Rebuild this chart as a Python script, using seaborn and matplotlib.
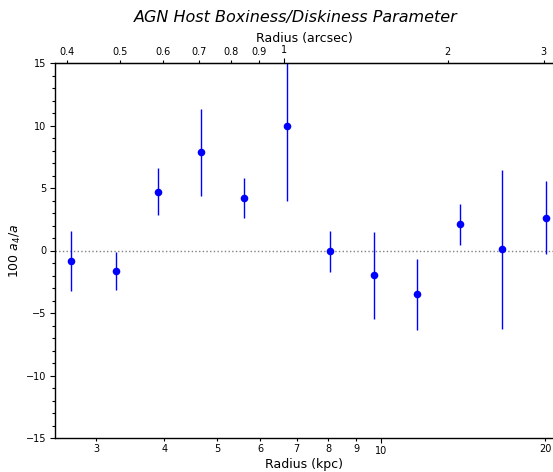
import numpy as np
import pandas as pd
import matplotlib
matplotlib.use("Agg")
import matplotlib.pyplot as plt
from matplotlib.ticker import FuncFormatter, MultipleLocator, FixedLocator
import seaborn as sns

# Data
radius_kpc = [2.70, 3.26, 3.89, 4.68, 5.61, 6.73, 8.07, 9.70, 11.63, 13.96, 16.71, 20.08]
a4_param = [-0.84, -1.64, 4.71, 7.85, 4.20, 10.0, -0.07, -1.99, -3.51, 2.09, 0.09, 2.63]
a4_err = [2.43, 1.52, 1.89, 3.47, 1.60, 6.0, 1.65, 3.47, 2.84, 1.67, 6.38, 2.90]
kpc_per_arcsec = 6.63

bottom_major = [10]
bottom_minor = [3, 4, 5, 6, 7, 8, 9, 20]
top_major = [1]
top_minor = [0.4, 0.5, 0.6, 0.7, 0.8, 0.9, 2, 3]

df = pd.DataFrame({"r": radius_kpc, "a4": a4_param, "err": a4_err})

sns.set_style("ticks")
plt.rcParams["font.family"] = ["DejaVu Sans"]
for k in ["text.color", "axes.labelcolor", "xtick.color", "ytick.color", "axes.edgecolor"]:
    plt.rcParams[k] = "black"

fig = plt.figure(figsize=(5.53, 4.72), dpi=100)
ax = fig.add_axes([55 / 553, 34 / 472, (553 - 55) / 553, (438 - 63) / 472])

ax.errorbar(df["r"], df["a4"], yerr=df["err"], fmt="none", ecolor="blue",
            elinewidth=1.0, capsize=0, zorder=2)
sns.scatterplot(data=df, x="r", y="a4", ax=ax, color="blue", s=30,
                edgecolor="blue", linewidth=0, zorder=3)
ax.axhline(0, color="gray", linestyle=":", linewidth=1, zorder=1)

ax.set_xscale("log")
ax.set_xlim(2.52, 20.69)
ax.set_ylim(-15, 15)

fmt = FuncFormatter(lambda v, p: f"{v:g}")
ax.xaxis.set_major_locator(FixedLocator(bottom_major))
ax.xaxis.set_minor_locator(FixedLocator(bottom_minor))
ax.xaxis.set_major_formatter(fmt)
ax.xaxis.set_minor_formatter(fmt)
ax.yaxis.set_major_locator(MultipleLocator(5))
ax.yaxis.set_minor_locator(MultipleLocator(1))

ax.tick_params(axis="both", which="both", labelsize=7, direction="out", width=0.8, pad=2.5)
ax.tick_params(axis="both", which="major", length=3.5)
ax.tick_params(axis="both", which="minor", length=2)

ax.set_xlabel("Radius (kpc)", fontsize=9, labelpad=1)
ax.set_ylabel("100 $a_4/a$", fontsize=9, labelpad=2)

sec = ax.secondary_xaxis("top", functions=(lambda x: x / kpc_per_arcsec,
                                           lambda x: x * kpc_per_arcsec))
sec.xaxis.set_major_locator(FixedLocator(top_major))
sec.xaxis.set_minor_locator(FixedLocator(top_minor))
sec.xaxis.set_major_formatter(fmt)
sec.xaxis.set_minor_formatter(fmt)
sec.tick_params(axis="x", which="both", labelsize=7, direction="out", width=0.8, pad=2.5)
sec.tick_params(axis="x", which="major", length=3.5)
sec.tick_params(axis="x", which="minor", length=2)
sec.set_xlabel("Radius (arcsec)", fontsize=9, labelpad=2)

ax.spines["right"].set_visible(False)
for s in ["left", "top", "bottom"]:
    ax.spines[s].set_linewidth(1.0)

fig.suptitle("AGN Host Boxiness/Diskiness Parameter", fontsize=11.5, style="italic",
             x=0.535, y=0.978)

fig.savefig("out.png", dpi=100)
